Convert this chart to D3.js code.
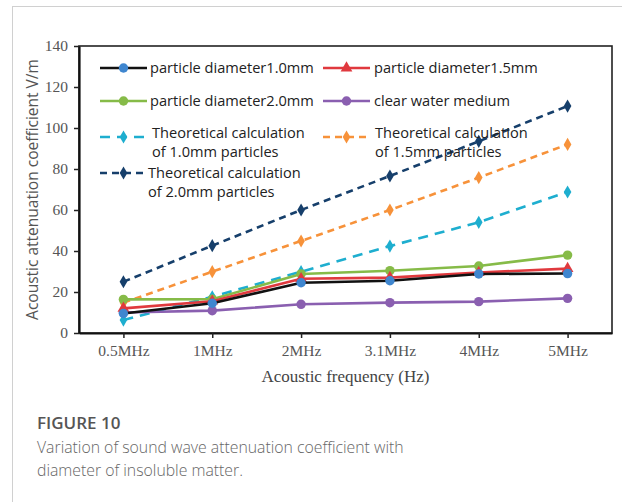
<!DOCTYPE html>
<html>
<head>
<meta charset="utf-8">
<script src="https://cdn.jsdelivr.net/npm/d3@7"></script>
<style>
  body { margin: 0; background: #fff; }
  svg { display: block; }
</style>
</head>
<body>
<div id="chart-area"></div>
<script>
// data
var freqs = ["0.5MHz", "1MHz", "2MHz", "3.1MHz", "4MHz", "5MHz"];
var yTicks = [0, 20, 40, 60, 80, 100, 120, 140];

var dia10 = [9.5, 14.5, 24.5, 25.5, 28.8, 29];
var dia15 = [12, 15.5, 26.5, 27, 29.5, 31.4];
var dia20 = [16.4, 16.5, 28.8, 30.4, 32.7, 38];
var water = [10, 10.9, 14, 14.8, 15.3, 16.9];
var theo10 = [6.3, 17.7, 29.9, 42.4, 54, 68.8];
var theo15 = [14.8, 29.9, 44.9, 60, 75.8, 92];
var theo20 = [25, 42.6, 60, 76.6, 93.5, 110.7];

var series = [
    {name: "Theoretical calculation of 1.0mm particles", vals: theo10, line: "#1eaecf", mark: "#1eaecf", sym: "diamond", dash: "10,7"},
    {name: "Theoretical calculation of 1.5mm particles", vals: theo15, line: "#f7923a", mark: "#f7923a", sym: "diamond", dash: "7,5"},
    {name: "Theoretical calculation of 2.0mm particles", vals: theo20, line: "#163f6b", mark: "#163f6b", sym: "diamond", dash: "7,5"},
    {name: "clear water medium", vals: water, line: "#8a5fb0", mark: "#8a5fb0", sym: "circle", dash: null},
    {name: "particle diameter2.0mm", vals: dia20, line: "#86bb48", mark: "#86bb48", sym: "circle", dash: null},
    {name: "particle diameter1.5mm", vals: dia15, line: "#e0393e", mark: "#e0393e", sym: "triangle", dash: null},
    {name: "particle diameter1.0mm", vals: dia10, line: "#111111", mark: "#3f86cf", sym: "circle", dash: null}
];

var W = 622, H = 502;
var plot = {left: 79, top: 46, right: 612, bottom: 333};

var svg = d3.select("#chart-area").append("svg")
    .attr("width", W).attr("height", H);

// page frame
svg.append("line").attr("x1", 12).attr("x2", W).attr("y1", 6.5).attr("y2", 6.5)
    .attr("stroke", "#d0d0d0").attr("stroke-width", 1);
svg.append("line").attr("x1", 12.5).attr("x2", 12.5).attr("y1", 6).attr("y2", H)
    .attr("stroke", "#d0d0d0").attr("stroke-width", 1);

var x = d3.scalePoint().domain(freqs).range([plot.left, plot.right]).padding(0.5);
var y = d3.scaleLinear().domain([0, 140]).range([plot.bottom, plot.top]);

// plot box
svg.append("rect")
    .attr("x", plot.left).attr("y", plot.top)
    .attr("width", plot.right - plot.left).attr("height", plot.bottom - plot.top)
    .attr("fill", "none").attr("stroke", "#222").attr("stroke-width", 1.6);

var xAxis = svg.append("g")
    .attr("transform", "translate(0," + plot.bottom + ")")
    .call(d3.axisBottom(x).tickSize(5).tickSizeOuter(0).tickPadding(7));
var yAxis = svg.append("g")
    .attr("transform", "translate(" + plot.left + ",0)")
    .call(d3.axisLeft(y).tickValues(yTicks).tickSize(5).tickSizeOuter(0).tickPadding(6));

[xAxis, yAxis].forEach(function(a) {
    a.attr("font-size", null).attr("font-family", null);
    a.select(".domain").attr("stroke", "#111").attr("stroke-width", 2.2);
    a.selectAll(".tick line").attr("stroke", "#222").attr("stroke-width", 1.5);
    a.selectAll(".tick text")
        .attr("fill", "#555")
        .style("font-family", "'Liberation Serif', 'DejaVu Serif', serif")
        .style("font-size", "15.5px");
});

svg.append("text")
    .attr("x", (plot.left + plot.right) / 2).attr("y", 382)
    .attr("text-anchor", "middle").attr("fill", "#444")
    .style("font-family", "'Liberation Serif', serif").style("font-size", "17px")
    .text("Acoustic frequency (Hz)");

svg.append("text")
    .attr("transform", "translate(38," + (plot.top + plot.bottom) / 2 + ") rotate(-90)")
    .attr("text-anchor", "middle").attr("fill", "#555")
    .style("font-family", "'Open Sans', sans-serif").style("font-size", "15.5px")
    .text("Acoustic attenuation coefficient V/m");

var symType = {circle: d3.symbolCircle, triangle: d3.symbolTriangle, diamond: d3.symbolDiamond};
var symSize = {circle: 70, triangle: 60, diamond: 50};

var line = d3.line()
    .x(function(d, i) { return x(freqs[i]); })
    .y(function(d) { return y(d); });

series.forEach(function(s) {
    svg.append("path")
        .datum(s.vals)
        .attr("d", line)
        .attr("fill", "none")
        .attr("stroke", s.line)
        .attr("stroke-width", 2.6)
        .attr("stroke-dasharray", s.dash);
    svg.selectAll(null).data(s.vals).enter().append("path")
        .attr("transform", function(d, i) { return "translate(" + x(freqs[i]) + "," + y(d) + ")"; })
        .attr("d", d3.symbol().type(symType[s.sym]).size(symSize[s.sym]))
        .attr("fill", s.mark);
});

// legend
var legend = [
    {s: 6, x: 100, y: 68, tx: 50, ty: 5, lines: ["particle diameter1.0mm"]},
    {s: 5, x: 323, y: 68, tx: 51, ty: 5, lines: ["particle diameter1.5mm"]},
    {s: 4, x: 100, y: 101, tx: 50, ty: 5, lines: ["particle diameter2.0mm"]},
    {s: 3, x: 323, y: 101, tx: 51, ty: 5, lines: ["clear water medium"]},
    {s: 0, x: 100, y: 137, tx: 52, ty: 1, lines: ["Theoretical calculation", "of 1.0mm particles"]},
    {s: 1, x: 323, y: 137, tx: 52, ty: 1, lines: ["Theoretical calculation", "of 1.5mm particles"]},
    {s: 2, x: 100, y: 173, tx: 48, ty: 5, lines: ["Theoretical calculation", "of 2.0mm particles"]}
];

legend.forEach(function(l) {
    var s = series[l.s];
    var g = svg.append("g").attr("transform", "translate(" + l.x + "," + l.y + ")");
    g.append("line").attr("x1", 0).attr("x2", 47).attr("y1", 0).attr("y2", 0)
        .attr("stroke", s.line).attr("stroke-width", 2.6)
        .attr("stroke-dasharray", s.dash);
    g.append("path")
        .attr("transform", "translate(23.5,0)")
        .attr("d", d3.symbol().type(symType[s.sym]).size(symSize[s.sym]))
        .attr("fill", s.mark);
    l.lines.forEach(function(t, i) {
        g.append("text")
            .attr("x", l.tx)
            .attr("y", l.ty + i * 19)
            .attr("fill", "#222")
            .style("font-family", "'Open Sans', sans-serif").style("font-size", "14.6px")
            .text(t);
    });
});

// caption
svg.append("text")
    .attr("x", 37).attr("y", 429)
    .attr("fill", "#555")
    .style("font-family", "'Open Sans', sans-serif").style("font-size", "17px")
    .style("font-weight", "600")
    .text("FIGURE 10");
["Variation of sound wave attenuation coefficient with", "diameter of insoluble matter."].forEach(function(t, i) {
    svg.append("text")
        .attr("x", 37).attr("y", 453 + i * 23)
        .attr("fill", "#666")
        .style("font-family", "'Open Sans', sans-serif").style("font-size", "15.8px")
        .style("font-weight", "300")
        .text(t);
});
</script>
</body>
</html>
